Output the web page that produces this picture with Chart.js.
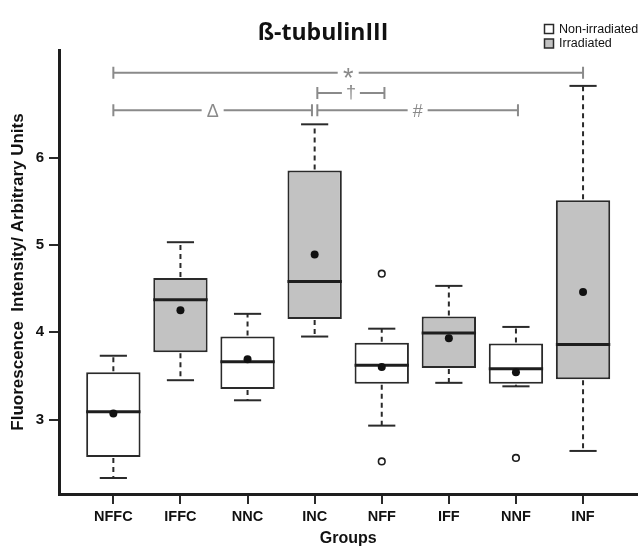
<!DOCTYPE html>
<html>
<head>
<meta charset="utf-8">
<script src="https://cdn.jsdelivr.net/npm/chart.js@4.4.1/dist/chart.umd.min.js"></script>
<style>
html,body{margin:0;padding:0;background:#fff;}
canvas{display:block;}
</style>
</head>
<body>
<canvas id="c" width="643" height="547"></canvas>
<script>
// ---- data ----
const categories = ['NFFC', 'IFFC', 'NNC', 'INC', 'NFF', 'IFF', 'NNF', 'INF'];
const irradiated = [false, true, false, true, false, true, false, true];
const whiskerLow  = [2.33, 3.45, 3.22, 3.95, 2.93, 3.42, 3.38, 2.64];
const q1          = [2.57, 3.77, 3.35, 4.15, 3.41, 3.59, 3.41, 3.46];
const median      = [3.09, 4.37, 3.66, 4.58, 3.62, 3.99, 3.58, 3.86];
const q3          = [3.54, 4.62, 3.95, 5.85, 3.88, 4.18, 3.87, 5.51];
const whiskerHigh = [3.73, 5.03, 4.21, 6.38, 4.04, 4.53, 4.06, 6.82];
const means       = [3.07, 4.25, 3.69, 4.89, 3.60, 3.93, 3.54, 4.46];
const outlierGroup = ['NFF', 'NFF', 'NNF'];
const outlierValue = [4.67, 2.52, 2.56];
const yTicks = [3, 4, 5, 6];
const legendLabels = ['Non-irradiated', 'Irradiated'];
const bracketLabels = ['*', '\u2020', '\u0394', '#'];
const bracketFrom   = [1, 4.04, 1, 4.04];
const bracketTo     = [8, 5.04, 3.96, 7.03];
const bracketLevel  = [6.97, 6.74, 6.54, 6.54];

const WHITE = '#ffffff';
const GRAY = '#c2c2c2';
const DARK = '#2a2a2a';

// ---- plugins ----
const boxExtras = {
  id: 'boxExtras',
  afterDatasetDraw(chart, args) {
    if (args.index !== 0) return;
    const {ctx, scales: {x, y}} = chart;
    const meta = chart.getDatasetMeta(0);
    ctx.save();
    const seg = (x1, y1, x2, y2) => { ctx.beginPath(); ctx.moveTo(x1, y1); ctx.lineTo(x2, y2); ctx.stroke(); };
    categories.forEach((c, i) => {
      const bar = meta.data[i];
      const cx = x.getPixelForValue(i + 1);
      const hb = bar.width / 2;
      const hc = hb / 2;
      const yHi = y.getPixelForValue(whiskerHigh[i]);
      const yLo = y.getPixelForValue(whiskerLow[i]);
      const yQ1 = y.getPixelForValue(q1[i]);
      const yQ3 = y.getPixelForValue(q3[i]);
      const yMed = y.getPixelForValue(median[i]);
      ctx.strokeStyle = DARK;
      ctx.lineWidth = 2;
      ctx.setLineDash([5, 4]);
      seg(cx, yQ3 - 1, cx, yHi);
      seg(cx, yQ1 + 1, cx, yLo);
      ctx.setLineDash([]);
      seg(cx - hc, yHi, cx + hc, yHi);
      seg(cx - hc, yLo, cx + hc, yLo);
      ctx.lineWidth = 3;
      ctx.strokeStyle = '#1e1e1e';
      seg(cx - hb, yMed, cx + hb, yMed);
    });
    ctx.restore();
  }
};

const brackets = {
  id: 'brackets',
  afterDraw(chart) {
    const {ctx, scales: {x, y}} = chart;
    ctx.save();
    ctx.strokeStyle = '#8a8a8a';
    ctx.fillStyle = '#8a8a8a';
    ctx.lineWidth = 2;
    ctx.textAlign = 'center';
    ctx.textBaseline = 'alphabetic';
    bracketLabels.forEach((lab, i) => {
      ctx.font = (lab === '*' ? '27px' : '18px') + ' "Liberation Sans", Arial, sans-serif';
      const x1 = x.getPixelForValue(bracketFrom[i]);
      const x2 = x.getPixelForValue(bracketTo[i]);
      const yy = y.getPixelForValue(bracketLevel[i]);
      const xm = (x1 + x2) / 2;
      const m = ctx.measureText(lab);
      const w = m.actualBoundingBoxLeft + m.actualBoundingBoxRight;
      const gap = w / 2 + 5;
      ctx.beginPath();
      ctx.moveTo(x1, yy); ctx.lineTo(xm - gap, yy);
      ctx.moveTo(xm + gap, yy); ctx.lineTo(x2, yy);
      ctx.moveTo(x1, yy - 6); ctx.lineTo(x1, yy + 6);
      ctx.moveTo(x2, yy - 6); ctx.lineTo(x2, yy + 6);
      ctx.stroke();
      const base = yy + (m.actualBoundingBoxAscent - m.actualBoundingBoxDescent) / 2;
      ctx.fillText(lab, xm, base);
    });
    ctx.restore();
  }
};

const topLegend = {
  id: 'topLegend',
  afterDraw(chart) {
    const {ctx} = chart;
    const fills = [WHITE, GRAY];
    ctx.save();
    ctx.font = '12.5px "Liberation Sans", Arial, sans-serif';
    ctx.textBaseline = 'middle';
    ctx.textAlign = 'left';
    legendLabels.forEach((lab, i) => {
      const top = 24.5 + i * 14.5;
      ctx.fillStyle = fills[i];
      ctx.fillRect(544.5, top, 9, 9);
      ctx.strokeStyle = DARK;
      ctx.lineWidth = 1.5;
      ctx.strokeRect(544.5, top, 9, 9);
      ctx.fillStyle = '#111';
      ctx.fillText(lab, 559, top + 5);
    });
    ctx.restore();
  }
};

// ---- chart ----
const boxData = categories.map((c, i) => ({x: i + 1, y: [q1[i], q3[i]]}));
const meanData = categories.map((c, i) => ({x: i + 1, y: means[i]}));
const outData = outlierGroup.map((g, i) => ({x: categories.indexOf(g) + 1, y: outlierValue[i]}));

new Chart(document.getElementById('c'), {
  type: 'bar',
  data: {
    datasets: [
      {
        label: 'Boxes',
        data: boxData,
        backgroundColor: irradiated.map(v => v ? GRAY : WHITE),
        borderColor: DARK,
        borderWidth: 2,
        borderSkipped: false,
        barPercentage: 0.81,
        categoryPercentage: 1.0,
        order: 2
      },
      {
        type: 'scatter',
        label: 'Mean',
        data: meanData,
        pointRadius: 4,
        pointBackgroundColor: '#111',
        pointBorderColor: '#111',
        pointBorderWidth: 0,
        order: 1
      },
      {
        type: 'scatter',
        label: 'Outliers',
        data: outData,
        pointRadius: 3.3,
        pointBackgroundColor: '#fff',
        pointBorderColor: '#1e1e1e',
        pointBorderWidth: 1.6,
        order: 0
      }
    ]
  },
  options: {
    responsive: false,
    animation: false,
    devicePixelRatio: 1,
    layout: {padding: {left: 8, right: 5, top: 0, bottom: 0}},
    plugins: {
      legend: {display: false},
      tooltip: {enabled: false},
      title: {
        display: true,
        text: 'ß-tubulinIII',
        color: '#111',
        font: {family: '"Open Sans", sans-serif', size: 23, weight: 'bold', lineHeight: 1.2},
        padding: {top: 20, bottom: 2.4}
      }
    },
    scales: {
      x: {
        type: 'linear',
        min: 0.19,
        max: 8.81,
        offset: false,
        afterBuildTicks: (s) => { s.ticks = categories.map((c, i) => ({value: i + 1})); },
        afterFit: (s) => { s.height = 53; },
        ticks: {
          autoSkip: false,
          maxRotation: 0,
          padding: 4,
          color: '#111',
          font: {family: '"Liberation Sans", Arial, sans-serif', size: 14.5, weight: 'bold'},
          callback: (v) => categories[Math.round(v) - 1]
        },
        grid: {display: true, offset: false, drawOnChartArea: false, drawTicks: true, tickLength: 10, tickColor: DARK, tickWidth: 2, lineWidth: 2},
        border: {display: true, color: '#1e1e1e', width: 3},
        title: {
          display: true,
          text: 'Groups',
          color: '#111',
          font: {family: '"Liberation Sans", Arial, sans-serif', size: 16, weight: 'bold', lineHeight: 1.1},
          padding: {top: 0, bottom: 0}
        }
      },
      y: {
        type: 'linear',
        min: 2.147,
        max: 7.231,
        afterBuildTicks: (s) => { s.ticks = yTicks.map(v => ({value: v})); },
        afterFit: (s) => { s.width = 51; },
        ticks: {
          padding: 5,
          color: '#111',
          font: {family: '"Liberation Sans", Arial, sans-serif', size: 15, weight: 'bold'}
        },
        grid: {display: true, drawOnChartArea: false, drawTicks: true, tickLength: 10, tickColor: DARK, tickWidth: 2, lineWidth: 2},
        border: {display: true, color: '#1e1e1e', width: 3},
        title: {
          display: true,
          text: 'Fluorescence  Intensity/ Arbitrary Units',
          color: '#111',
          font: {family: '"Liberation Sans", Arial, sans-serif', size: 17, weight: 'bold', lineHeight: 1.2},
          padding: {top: 0, bottom: 0}
        }
      }
    }
  },
  plugins: [boxExtras, brackets, topLegend]
});
</script>
</body>
</html>
